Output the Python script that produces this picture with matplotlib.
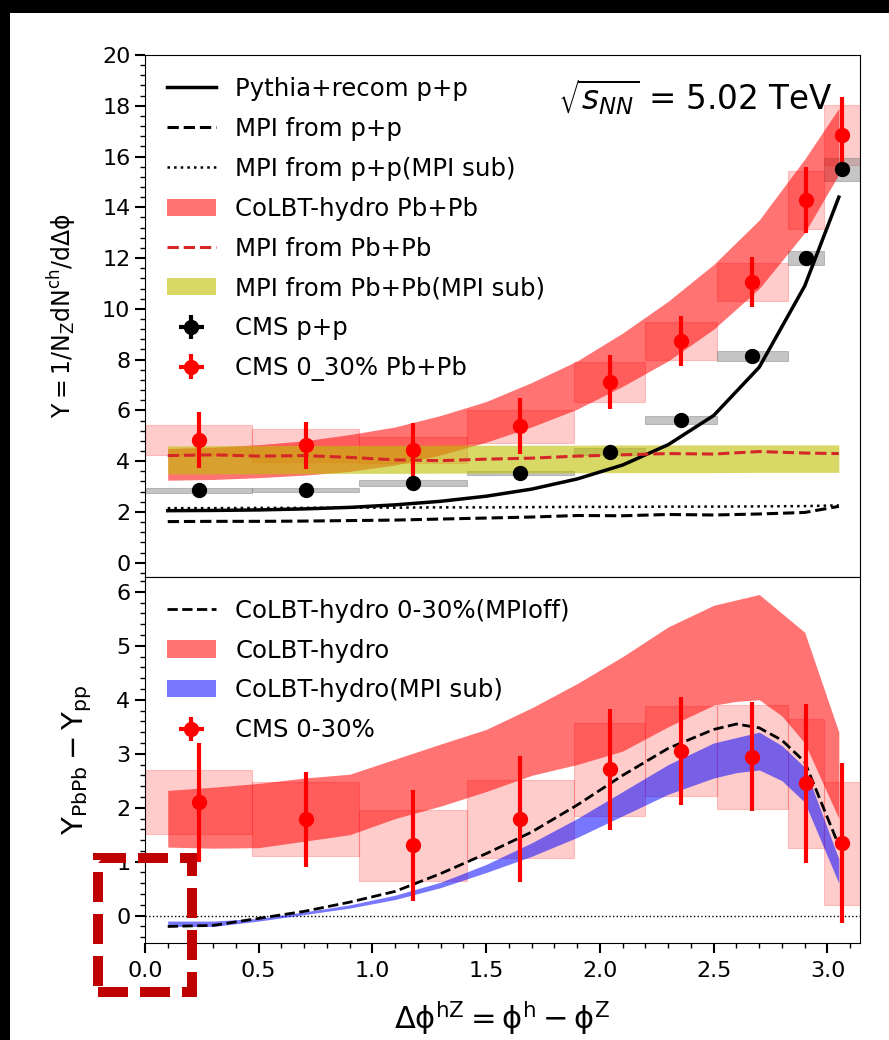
import numpy as np
import matplotlib.pyplot as plt
from matplotlib.patches import Rectangle, Patch
from matplotlib.ticker import MultipleLocator

plt.rcParams['font.family'] = ['DejaVu Sans']
plt.rcParams['mathtext.fontset'] = 'dejavusans'

# CMS delta-phi bins (edges in units of pi/20)
bin_edges = np.pi * np.array([0, 3, 6, 9, 12, 14, 16, 18, 19, 20]) / 20
bin_centers = 0.5 * (bin_edges[:-1] + bin_edges[1:])

# ---- upper panel: yields ----
cms_pp_y = [2.86, 2.88, 3.14, 3.53, 4.38, 5.62, 8.15, 12.0, 15.5]
cms_pp_sys = [0.1, 0.08, 0.1, 0.08, 0.12, 0.15, 0.2, 0.26, 0.46]
cms_pp_err = [0.05, 0.05, 0.05, 0.06, 0.08, 0.1, 0.12, 0.15, 0.2]

cms_pbpb_y = [4.85, 4.62, 4.44, 5.37, 7.12, 8.74, 11.07, 14.3, 16.86]
cms_pbpb_err = [1.1, 0.92, 1.05, 1.1, 1.08, 0.99, 0.99, 1.3, 1.47]
cms_pbpb_sys = [0.59, 0.65, 0.5, 0.66, 0.79, 0.75, 0.75, 1.15, 1.18]

theory_x = [0.1, 0.3, 0.5, 0.7, 0.9, 1.1, 1.3, 1.5, 1.7, 1.9, 2.1, 2.3, 2.5, 2.7, 2.9, 3.05]
pythia_pp = [2.05, 2.06, 2.08, 2.12, 2.18, 2.28, 2.42, 2.62, 2.9, 3.3, 3.85, 4.65, 5.8, 7.7, 10.9, 14.4]
mpi_pp = [1.62, 1.63, 1.63, 1.64, 1.66, 1.68, 1.72, 1.76, 1.8, 1.86, 1.85, 1.9, 1.88, 1.92, 1.98, 2.22]
mpi_pp_sub = [2.15, 2.15, 2.16, 2.16, 2.17, 2.17, 2.18, 2.18, 2.19, 2.2, 2.2, 2.21, 2.21, 2.22, 2.23, 2.26]
colbt_lo = [3.25, 3.28, 3.35, 3.45, 3.6, 3.85, 4.25, 4.75, 5.35, 6.05, 6.95, 7.95, 9.2, 10.8, 13.0, 15.3]
colbt_hi = [4.5, 4.55, 4.65, 4.8, 5.05, 5.35, 5.8, 6.35, 7.1, 7.95, 9.05, 10.3, 11.75, 13.5, 15.9, 17.9]
mpi_pbpb = [4.22, 4.25, 4.2, 4.22, 4.15, 4.05, 4.02, 4.08, 4.12, 4.2, 4.25, 4.3, 4.28, 4.38, 4.32, 4.3]
mpi_sub_lo = [3.5, 3.5, 3.5, 3.51, 3.52, 3.52, 3.53, 3.53, 3.54, 3.54, 3.55, 3.55, 3.55, 3.56, 3.56, 3.56]
mpi_sub_hi = [4.6, 4.61, 4.61, 4.62, 4.62, 4.62, 4.63, 4.63, 4.63, 4.63, 4.64, 4.64, 4.64, 4.64, 4.64, 4.64]

# ---- lower panel: PbPb - pp ----
diff_y = [2.1, 1.79, 1.30, 1.79, 2.71, 3.05, 2.94, 2.45, 1.34]
diff_err = [1.1, 0.88, 1.03, 1.17, 1.12, 1.0, 1.01, 1.47, 1.48]
diff_sys = [0.59, 0.68, 0.65, 0.73, 0.86, 0.83, 0.97, 1.19, 1.14]

diff_x = [0.1, 0.3, 0.5, 0.7, 0.9, 1.1, 1.3, 1.5, 1.7, 1.9, 2.1, 2.3, 2.5, 2.6, 2.7, 2.8, 2.9, 3.05]
mpioff = [-0.2, -0.18, -0.05, 0.08, 0.25, 0.45, 0.78, 1.15, 1.55, 2.05, 2.6, 3.1, 3.45, 3.55, 3.48, 3.25, 2.85, 1.3]
colbt_d_lo = [1.27, 1.25, 1.26, 1.38, 1.5, 1.8, 2.03, 2.3, 2.6, 2.8, 3.05, 3.5, 3.9, 3.97, 4.0, 3.7, 3.2, 1.8]
colbt_d_hi = [2.32, 2.38, 2.45, 2.55, 2.62, 2.9, 3.18, 3.45, 3.85, 4.3, 4.8, 5.35, 5.75, 5.85, 5.95, 5.6, 5.25, 3.4]
sub_d_lo = [-0.2, -0.2, -0.1, 0.02, 0.14, 0.3, 0.52, 0.8, 1.1, 1.45, 1.85, 2.25, 2.55, 2.65, 2.7, 2.5, 2.1, 0.6]
sub_d_hi = [-0.1, -0.1, -0.05, 0.07, 0.2, 0.38, 0.62, 0.95, 1.35, 1.8, 2.3, 2.8, 3.2, 3.3, 3.4, 3.15, 2.75, 1.05]

leg_fs = 17.6
fig = plt.figure(figsize=(8.89, 10.40), dpi=100)
ax1 = fig.add_axes([0.1631, 0.4455, 0.8039, 0.5016])
ax2 = fig.add_axes([0.1631, 0.0936, 0.8039, 0.3519])


def sys_boxes(ax, yc, half, **kw):
    for i in range(len(yc)):
        x0, x1 = bin_edges[i], bin_edges[i + 1]
        ax.add_patch(Rectangle((x0, yc[i] - half[i]), x1 - x0, 2 * half[i], **kw))


# upper panel
sys_boxes(ax1, cms_pbpb_y, cms_pbpb_sys, facecolor='red', edgecolor='red', alpha=0.2, lw=0.8, zorder=1)
sys_boxes(ax1, cms_pp_y, cms_pp_sys, facecolor='grey', edgecolor='grey', alpha=0.45, lw=0.8, zorder=1)
ax1.fill_between(theory_x, colbt_lo, colbt_hi, color='red', alpha=0.55, lw=0, zorder=2)
ax1.fill_between(theory_x, mpi_sub_lo, mpi_sub_hi, color='y', alpha=0.6, lw=0, zorder=2)
ax1.plot(theory_x, pythia_pp, color='k', lw=2.5, zorder=3)
ax1.plot(theory_x, mpi_pp, color='k', ls='--', lw=2.2, zorder=3)
ax1.plot(theory_x, mpi_pp_sub, color='k', ls=':', lw=1.8, zorder=3)
ax1.plot(theory_x, mpi_pbpb, color='tab:red', ls='--', lw=2.2, zorder=3)
eb_pp = ax1.errorbar(bin_centers, cms_pp_y, yerr=cms_pp_err, xerr=0 * np.array(cms_pp_err),
                     fmt='o', color='k', ms=10, elinewidth=3, capsize=0, zorder=4)
eb_pb = ax1.errorbar(bin_centers, cms_pbpb_y, yerr=cms_pbpb_err, xerr=0 * np.array(cms_pbpb_err),
                     fmt='o', color='red', ms=10, elinewidth=3, capsize=0, zorder=4)

h_top = [
    plt.Line2D([], [], color='k', lw=2.5),
    plt.Line2D([], [], color='k', ls='--', lw=2.2),
    plt.Line2D([], [], color='k', ls=':', lw=1.8),
    Patch(facecolor='red', alpha=0.55),
    plt.Line2D([], [], color='tab:red', ls='--', lw=2.2),
    Patch(facecolor='y', alpha=0.6),
    eb_pp, eb_pb,
]
l_top = ['Pythia+recom p+p', 'MPI from p+p', 'MPI from p+p(MPI sub)', 'CoLBT-hydro Pb+Pb',
         'MPI from Pb+Pb', 'MPI from Pb+Pb(MPI sub)', 'CMS p+p', 'CMS 0_30% Pb+Pb']
ax1.legend(h_top, l_top, loc='upper left', frameon=False, fontsize=leg_fs, labelspacing=0.65)
ax1.text(0.578, 0.92, r'$\sqrt{s_{NN}}$ = 5.02 TeV', transform=ax1.transAxes,
         fontsize=23.5, ha='left', va='center')

ax1.set_xlim(0, np.pi)
ax1.set_ylim(-0.55, 20)
ax1.yaxis.set_major_locator(MultipleLocator(2))
ax1.yaxis.set_minor_locator(MultipleLocator(0.4))
ax1.tick_params(axis='x', which='both', bottom=False, labelbottom=False)
ax1.set_ylabel(r'$\mathrm{Y = 1/N_Z dN^{ch}/d\Delta\phi}$', fontsize=17)
ax1.yaxis.set_label_coords(-0.093, 0.5)

# lower panel
sys_boxes(ax2, diff_y, diff_sys, facecolor='red', edgecolor='red', alpha=0.2, lw=0.8, zorder=1)
ax2.fill_between(diff_x, colbt_d_lo, colbt_d_hi, color='red', alpha=0.55, lw=0, zorder=2)
ax2.fill_between(diff_x, sub_d_lo, sub_d_hi, color='blue', alpha=0.53, lw=0, zorder=2)
ax2.plot(diff_x, mpioff, color='k', ls='--', lw=2, zorder=3)
ax2.axhline(0, color='k', ls=':', lw=1, zorder=0)
eb_d = ax2.errorbar(bin_centers, diff_y, yerr=diff_err, xerr=0 * np.array(diff_err),
                    fmt='o', color='red', ms=10, elinewidth=3, capsize=0, zorder=4)

h_bot = [
    plt.Line2D([], [], color='k', ls='--', lw=2),
    Patch(facecolor='red', alpha=0.55),
    Patch(facecolor='blue', alpha=0.53),
    eb_d,
]
l_bot = ['CoLBT-hydro 0-30%(MPIoff)', 'CoLBT-hydro', 'CoLBT-hydro(MPI sub)', 'CMS 0-30%']
ax2.legend(h_bot, l_bot, loc='upper left', frameon=False, fontsize=leg_fs, labelspacing=0.65)

ax2.set_xlim(0, np.pi)
ax2.set_ylim(-0.5, 6.28)
ax2.xaxis.set_major_locator(MultipleLocator(0.5))
ax2.xaxis.set_minor_locator(MultipleLocator(0.1))
ax2.yaxis.set_major_locator(MultipleLocator(1))
ax2.yaxis.set_minor_locator(MultipleLocator(0.2))
ax2.set_ylabel(r'$\mathrm{Y_{PbPb} - Y_{pp}}$', fontsize=21)
ax2.yaxis.set_label_coords(-0.072, 0.5)
ax2.set_xlabel(r'$\mathrm{\Delta\phi^{hZ} = \phi^h - \phi^Z}$', fontsize=22, labelpad=13)

for ax in (ax1, ax2):
    ax.tick_params(which='major', length=7, width=1.5, labelsize=16, direction='out')
    ax.tick_params(which='minor', length=3.5, width=1, direction='out')
ax2.tick_params(axis='x', which='major', pad=6)

# dark frame along the top and left edge
fig.patches.append(Rectangle((0, 1 - 13 / 1040), 1, 13 / 1040, transform=fig.transFigure,
                             facecolor='black', edgecolor='none', zorder=-1))
fig.patches.append(Rectangle((0, 0), 10 / 889, 1, transform=fig.transFigure,
                             facecolor='black', edgecolor='none', zorder=-1))

# highlight box around the origin of the lower panel
fig.patches.append(Rectangle((98 / 889, 1 - 991.5 / 1040), 93.5 / 889, 133.5 / 1040,
                             transform=fig.transFigure, fill=False, edgecolor='#c00000',
                             lw=7.2, ls=(0, (3, 1.2)), zorder=10))

fig.savefig('out.png', dpi=100)
